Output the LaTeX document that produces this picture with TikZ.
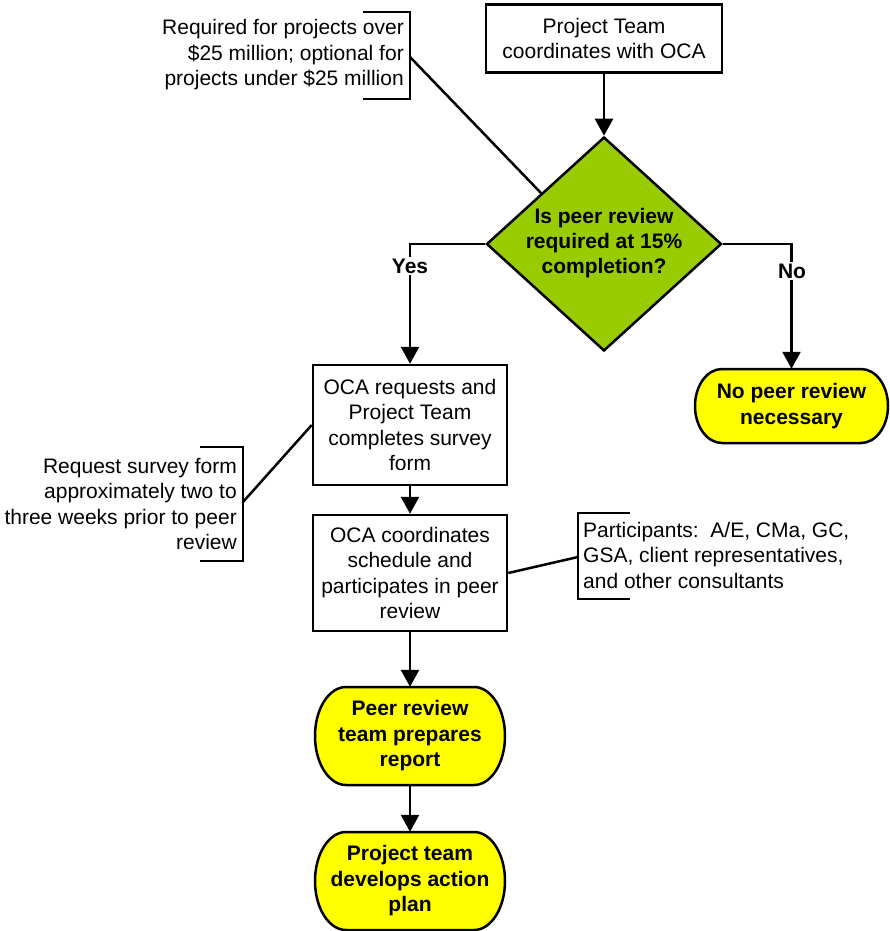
\documentclass[tikz,border=0pt]{standalone}
\usepackage{fontspec}
\setmainfont{Liberation Sans}
\usetikzlibrary{shapes.geometric,arrows.meta,calc}
\definecolor{dgreen}{HTML}{99CC00}
\definecolor{tyellow}{HTML}{FFFF00}
\newcommand\termoutline[6]{% cx cy w h rx ry
  \draw[termline] (#1-#3/2+#5,#2-#4/2) -- (#1+#3/2-#5,#2-#4/2)
    arc[start angle=90,end angle=-90,x radius=#5pt,y radius=#6pt]
    -- (#1-#3/2+#5,#2+#4/2)
    arc[start angle=270,end angle=90,x radius=#5pt,y radius=#6pt] -- cycle;}
\begin{document}
\begin{tikzpicture}[x=1pt,y=-1pt,
  every node/.style={font=\fontsize{21}{25.5}\selectfont, inner sep=0pt, align=center},
  procbox/.style={draw, line width=2.5pt, fill=white},
  termline/.style={draw, line width=2.5pt, fill=tyellow},
  termtext/.style={font=\bfseries\fontsize{21}{25.5}\selectfont},
  conn/.style={line width=2.5pt},
  arr/.style={line width=2.5pt, -{Triangle[length=17pt,width=18pt]}},
  bracket/.style={line width=2.5pt},
  lbl/.style={font=\bfseries\fontsize{21}{25.5}\selectfont, fill=white, inner sep=2pt}]
\useasboundingbox (0,0) rectangle (890,931);

% top box
\node[procbox, minimum width=236pt, minimum height=68pt] (top) at (604,38.5)
  {Project Team\\coordinates with OCA};

% decision
\node[diamond, draw, line width=2.5pt, fill=dgreen, minimum width=235pt, minimum height=214pt] (d) at (604,244) {};
\node[font=\bfseries\fontsize{21}{25}\selectfont] (dtext) at (604,243) {Is peer review\\required at 15\%\\completion?};

% process boxes
\node[procbox, minimum width=194pt, minimum height=120pt] (b1) at (410,425)
  {OCA requests and\\Project Team\\completes survey\\form};
\node[procbox, minimum width=194pt, minimum height=116pt] (b2) at (410,573)
  {OCA coordinates\\schedule and\\participates in peer\\review};

% terminators
\termoutline{791.5}{406}{193}{74}{27}{37}
\node[termtext, minimum width=193pt, minimum height=74pt] (no) at (791.5,406) {No peer review\\necessary};
\termoutline{410}{736}{190}{98}{31}{49}
\node[termtext, minimum width=190pt, minimum height=98pt] (t3) at (410,736) {Peer review\\team prepares\\report};
\termoutline{410}{881}{190}{98}{31}{49}
\node[termtext, minimum width=190pt, minimum height=98pt] (t4) at (410,881) {Project team\\develops action\\plan};

% arrows
\draw[arr] (top.south) -- (d.north);
\draw[arr] (d.west) -| (b1.north);
\draw[arr] (d.east) -| (no.north);
\draw[arr] (b1.south) -- (b2.north);
\draw[arr] (b2.south) -- (t3.north);
\draw[arr] (t3.south) -- (t4.north);
\node[lbl] (yes) at (410,266) {Yes};
\node[lbl] (nolbl) at (792,271) {No};

% annotation 1
\node[anchor=east, align=right] (a1) at (404,55)
  {Required for projects over\\\$25 million; optional for\\projects under \$25 million};
\draw[bracket] (363,12) -- (410,12) -- (410,99) -- (363,99);
\coordinate (a1c) at (410,57);
\draw[conn] (a1c) -- ($(d.west)!0.47!(d.north)$);

% annotation 2
\node[anchor=east, align=right] (a2) at (237,504)
  {Request survey form\\approximately two to\\three weeks prior to peer\\review};
\draw[bracket] (200,447) -- (243,447) -- (243,561) -- (200,561);
\coordinate (a2c) at (243,502);
\draw[conn] (a2c) -- (b1.west);

% annotation 3
\node[anchor=west, align=left] (a3) at (583,555)
  {Participants:\ \ A/E, CMa, GC,\\GSA, client representatives,\\and other consultants};
\draw[bracket] (630,513) -- (578,513) -- (578,599) -- (630,599);
\coordinate (a3c) at (578,557);
\draw[conn] (b2.east) -- (a3c);
\end{tikzpicture}
\end{document}
